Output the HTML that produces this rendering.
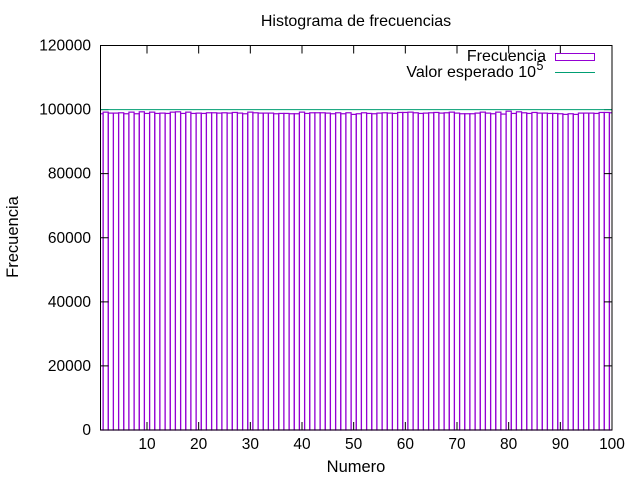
<!DOCTYPE html>
<html><head><meta charset="utf-8"><style>
body{margin:0;background:#fff;}
svg{font-family:"Liberation Sans",sans-serif;}
</style></head><body>
<svg id="chart" width="640" height="480" xmlns="http://www.w3.org/2000/svg">
<text x="356" y="26" font-size="16" text-anchor="middle">Histograma de frecuencias</text>
<text x="356" y="472" font-size="16.5" text-anchor="middle">Numero</text>
<text transform="translate(18,237) rotate(-90)" font-size="16.5" text-anchor="middle">Frecuencia</text>
<g id="bars"></g>
<g id="axes"></g>
<line id="expected" stroke="#009e73" stroke-width="1"/>
<rect x="100.5" y="45.5" width="511.5" height="384.5" fill="none" stroke="#000"/>
<g>
<text x="546" y="61" font-size="16" text-anchor="end">Frecuencia</text>
<rect x="555.5" y="53.5" width="39" height="7" fill="none" stroke="#9400d3"/>
<text x="536" y="77" font-size="16" text-anchor="end">Valor esperado 10</text>
<text x="536.5" y="70" font-size="12.5">5</text>
<line x1="555" y1="72.5" x2="595" y2="72.5" stroke="#009e73"/>
</g>
</svg>
<script>
const values=[98700,99200,98900,98900,99000,98700,99200,98700,99300,98800,99200,98800,98900,98800,99200,99300,98800,99200,98800,98900,98800,99000,99000,98900,99000,98900,99100,98900,98700,99200,
99000,98900,98900,98900,98700,98800,98800,98700,98700,99200,98800,99000,99000,99000,98900,98700,99000,98700,99000,98500,98700,99000,98800,98700,98900,99000,98900,98800,99100,99100,
99200,99000,98800,98900,99000,99100,98900,99000,99200,98900,98700,98700,98700,98900,99200,98900,98700,99200,98600,99500,98800,99300,99000,98800,99100,98900,98900,98800,98800,98700,
98500,98700,98500,98900,98900,98900,98800,99100,99100,99000];
const categories=values.map((v,i)=>i+1);
const yTicks=[0,20000,40000,60000,80000,100000,120000];
const xTicks=[10,20,30,40,50,60,70,80,90,100];
const expectedValue=100000;
const X0=100.5,X1=612,Y0=430,Y1=45.5,xmin=1,xmax=100,ymax=120000;
const sx=v=>X0+(v-xmin)/(xmax-xmin)*(X1-X0);
const sy=v=>Y0-v/ymax*(Y0-Y1);
const NS="http://www.w3.org/2000/svg";
const bars=document.getElementById('bars');
const cp=document.createElementNS(NS,'clipPath');cp.id='clip';
const cr=document.createElementNS(NS,'rect');
cr.setAttribute('x',X0);cr.setAttribute('y',Y1);cr.setAttribute('width',X1-X0);cr.setAttribute('height',Y0-Y1+1);
cp.appendChild(cr);bars.appendChild(cp);
bars.setAttribute('clip-path','url(#clip)');
categories.forEach((c,i)=>{
  const r=document.createElementNS(NS,'rect');
  
  
  const l=sx(c-0.5),rr=sx(c+0.5);
  r.setAttribute('x',l);r.setAttribute('width',rr-l);
  r.setAttribute('y',sy(values[i]));r.setAttribute('height',Y0-sy(values[i]));
  r.setAttribute('fill','none');r.setAttribute('stroke','#9400d3');r.setAttribute('stroke-width','1.2');
  bars.appendChild(r);
});
const ex=document.getElementById('expected');
ex.setAttribute('x1',X0);ex.setAttribute('x2',X1);ex.setAttribute('y1',sy(expectedValue));ex.setAttribute('y2',sy(expectedValue));
const axes=document.getElementById('axes');
yTicks.forEach(t=>{
  const y=sy(t);
  const t1=document.createElementNS(NS,'text');
  
  
  t1.setAttribute('x',91);t1.setAttribute('y',y+5);t1.setAttribute('font-size','15.5');t1.setAttribute('text-anchor','end');
  t1.textContent=t;axes.appendChild(t1);
  const l=document.createElementNS(NS,'path');
  
  
  l.setAttribute('d',`M${X0} ${y}h8M${X1} ${y}h-8`);l.setAttribute('stroke','#000');
  axes.appendChild(l);
});
xTicks.forEach(t=>{
  const x=sx(t);
  const t1=document.createElementNS(NS,'text');
  
  
  t1.setAttribute('x',x);t1.setAttribute('y',449);t1.setAttribute('font-size','15.5');t1.setAttribute('text-anchor','middle');
  t1.textContent=t;axes.appendChild(t1);
  const l=document.createElementNS(NS,'path');
  
  
  l.setAttribute('d',`M${x} ${Y0}v-8M${x} ${Y1}v8`);l.setAttribute('stroke','#000');
  axes.appendChild(l);
});
</script>
</body></html>
